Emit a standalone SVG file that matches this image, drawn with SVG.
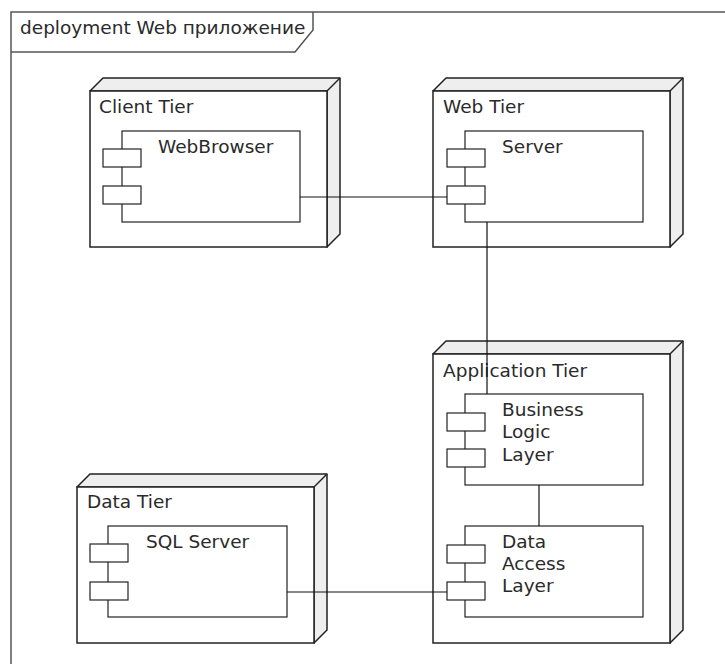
<svg xmlns="http://www.w3.org/2000/svg" width="725" height="664" viewBox="0 0 725 664">
<defs>
<style>
text{font-family:"DejaVu Sans","Liberation Sans",sans-serif;font-size:18.5px;fill:#2a2a2a}
.frame{fill:none;stroke:#555;stroke-width:1.5}
.front{fill:#fff;stroke:#222;stroke-width:1.5}
.side{fill:#eee;stroke:#222;stroke-width:1.5;stroke-linejoin:round}
.comp{fill:#fff;stroke:#222;stroke-width:1.2}
.conn{fill:none;stroke:#111;stroke-width:1.2}
</style>
</defs>
<rect width="725" height="664" fill="#fff"/>
<g id="frame">
<rect class="frame" x="11" y="12" width="730" height="670"/>
<path class="frame" d="M11 52 H295 L313 30 V12"/>
<text x="20" y="34">deployment Web приложение</text>
</g>
<g id="client-tier">
<path class="side" d="M90 91 L103 78 H340 V234 L327 247 V91 Z"/>
<path class="side" d="M327 91 L340 78"/>
<rect class="front" x="90" y="91" width="237" height="156"/>
<text x="99" y="113">Client Tier</text>
</g>
<g id="webbrowser">
<rect class="comp" x="122" y="131" width="178" height="91"/>
<rect class="comp" x="103" y="149" width="38" height="18"/>
<rect class="comp" x="103" y="186" width="38" height="18"/>
<text x="158" y="153">WebBrowser</text>
</g>
<g id="web-tier">
<path class="side" d="M433 91 L446 78 H683 V234 L670 247 V91 Z"/>
<path class="side" d="M670 91 L683 78"/>
<rect class="front" x="433" y="91" width="237" height="156"/>
<text x="443" y="113">Web Tier</text>
</g>
<g id="server">
<rect class="comp" x="465" y="131" width="178" height="91"/>
<rect class="comp" x="447" y="149" width="38" height="18"/>
<rect class="comp" x="447" y="186" width="38" height="18"/>
<text x="502" y="153">Server</text>
</g>
<g id="application-tier">
<path class="side" d="M433 354 L446 341 H683 V630 L670 643 V354 Z"/>
<path class="side" d="M670 354 L683 341"/>
<rect class="front" x="433" y="354" width="237" height="289"/>
<text x="443" y="377">Application Tier</text>
</g>
<g id="business-logic-layer">
<rect class="comp" x="465" y="394" width="178" height="91"/>
<rect class="comp" x="447" y="413" width="38" height="18"/>
<rect class="comp" x="447" y="449" width="38" height="18"/>
<text x="502" y="416">Business</text>
<text x="502" y="438">Logic</text>
<text x="502" y="461">Layer</text>
</g>
<g id="data-access-layer">
<rect class="comp" x="465" y="526" width="178" height="91"/>
<rect class="comp" x="447" y="545" width="38" height="18"/>
<rect class="comp" x="447" y="582" width="38" height="18"/>
<text x="502" y="548">Data</text>
<text x="502" y="570">Access</text>
<text x="502" y="592">Layer</text>
</g>
<g id="data-tier">
<path class="side" d="M77 487 L90 474 H327 V630 L314 643 V487 Z"/>
<path class="side" d="M314 487 L327 474"/>
<rect class="front" x="77" y="487" width="237" height="156"/>
<text x="87" y="508">Data Tier</text>
</g>
<g id="sql-server">
<rect class="comp" x="108" y="526" width="179" height="91"/>
<rect class="comp" x="90" y="544" width="38" height="18"/>
<rect class="comp" x="90" y="582" width="38" height="18"/>
<text x="146" y="548">SQL Server</text>
</g>
<g id="connectors">
<path class="conn" d="M300 197 H447"/>
<path class="conn" d="M487 222 V394"/>
<path class="conn" d="M539 485 V526"/>
<path class="conn" d="M287 592 H447"/>
</g>
</svg>
